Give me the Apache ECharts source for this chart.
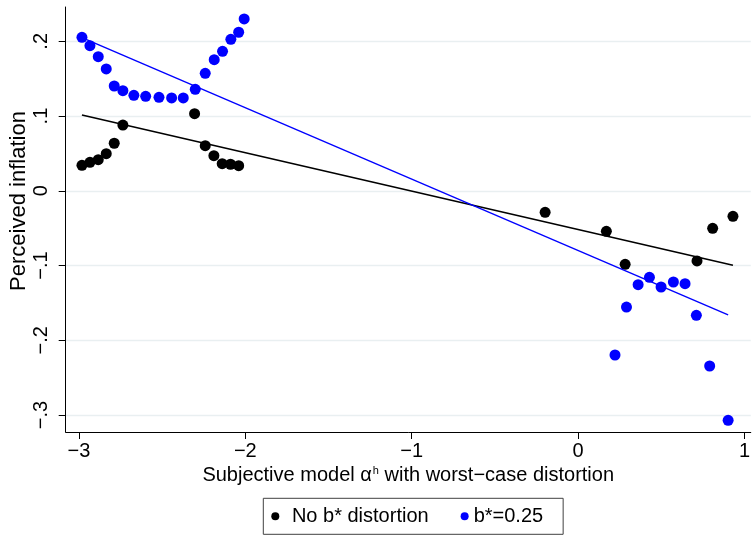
<!DOCTYPE html>
<html>
<head>
<meta charset="utf-8">
<script src="https://cdn.jsdelivr.net/npm/echarts@6/dist/echarts.min.js"></script>
<style>html,body{margin:0;padding:0;background:#fff;}#c{width:753px;height:535px;}</style>
</head>
<body>
<div id="c"></div>
<script>
// Data
const xBlack = [-2.982,-2.934,-2.884,-2.836,-2.788,-2.736,-2.305,-2.241,-2.189,-2.139,-2.089,-2.040,-0.198,0.170,0.283,0.715,0.809,0.931];
const yBlack = [0.0341,0.0381,0.0416,0.0496,0.0636,0.0880,0.1032,0.0603,0.0470,0.0363,0.0355,0.0336,-0.0288,-0.0542,-0.0983,-0.0939,-0.0502,-0.0341];
const xBlue = [-2.982,-2.934,-2.884,-2.836,-2.788,-2.736,-2.670,-2.599,-2.519,-2.443,-2.373,-2.301,-2.241,-2.187,-2.137,-2.087,-2.040,-2.007,0.222,0.291,0.361,0.429,0.499,0.573,0.643,0.711,0.791,0.902];
const yBlue = [0.2054,0.1941,0.1794,0.1630,0.1402,0.1339,0.1278,0.1264,0.1251,0.1242,0.1242,0.1358,0.1572,0.1754,0.1866,0.2027,0.2121,0.2299,-0.2197,-0.1555,-0.1256,-0.1157,-0.1287,-0.1220,-0.1243,-0.1666,-0.2344,-0.3071];
// fitted lines (endpoints)
const fitBlackX = [-2.982, 0.931];
const fitBlackY = [0.1015, -0.0995];
const fitBlueX = [-2.982, 0.902];
const fitBlueY = [0.2050, -0.1660];
const xTicks = [-3,-2,-1,0,1];
const yTicks = [-0.3,-0.2,-0.1,0,0.1,0.2];
const xTickLabels = ['\u22123','\u22122','\u22121','0','1'];
const yTickLabels = ['\u2212.3','\u2212.2','\u2212.1','0','.1','.2'];
const seriesNames = ['No b* distortion','b*=0.25'];
const xTitle = 'Subjective model \u03b1{sup|h} with worst\u2212case distortion';
const yTitle = 'Perceived inflation';

const zip = (a,b) => a.map((v,i)=>[v,b[i]]);
const FONT = 'Liberation Sans, Arial, Helvetica, sans-serif';

const chart = echarts.init(document.getElementById('c'), null, {renderer:'canvas'});
chart.setOption({
  animation:false,
  backgroundColor:'#fff',
  grid:{left:65.7, right:0, top:7, bottom:103, containLabel:false},
  xAxis:{
    type:'value', min:-3.0797, max:1.038,
    axisLine:{show:true, onZero:false, lineStyle:{color:'#000', width:1}},
    axisTick:{show:true, length:7, customValues:xTicks, lineStyle:{color:'#000'}},
    axisLabel:{customValues:xTicks, margin:9, fontSize:20, fontFamily:FONT, color:'#000',
      formatter:(v)=>{const i=xTicks.findIndex(t=>Math.abs(t-v)<1e-9);return i>=0?xTickLabels[i]:'';}},
    splitLine:{show:false},
    name:xTitle, nameLocation:'middle', nameGap:30,
    nameTextStyle:{fontSize:20, fontFamily:FONT, color:'#000',
      rich:{sup:{fontSize:11, fontFamily:FONT, color:'#000', verticalAlign:'top', padding:[0,0,9,1]}}}
  },
  yAxis:{
    type:'value', min:-0.3227, max:0.2459,
    axisLine:{show:true, onZero:false, lineStyle:{color:'#000', width:1}},
    axisTick:{show:true, length:7, customValues:yTicks, lineStyle:{color:'#000'}},
    axisLabel:{customValues:yTicks, rotate:90, margin:14, fontSize:20, fontFamily:FONT, color:'#000',
      formatter:(v)=>{const i=yTicks.findIndex(t=>Math.abs(t-v)<1e-9);return i>=0?yTickLabels[i]:'';}},
    splitLine:{show:true, lineStyle:{color:'#e9eff1', width:1.3}}
  },
  legend:{
    data:[{name:seriesNames[0], textStyle:{padding:[0,0,0,7.6]}},{name:seriesNames[1]}],
    left:263.3, top:498.3,
    orient:'horizontal',
    icon:'circle', itemWidth:8, itemHeight:8, itemGap:32,
    padding:[8,20,8,8],
    borderColor:'#404040', borderWidth:1,
    textStyle:{fontSize:20, fontFamily:FONT, color:'#000'}
  },
  graphic:[{
    type:'text', rotation:Math.PI/2, x:19, y:201,
    style:{text:yTitle, fontSize:22, fontFamily:FONT, fill:'#000', align:'center', verticalAlign:'middle'}
  }],
  series:[
    {name:seriesNames[0], type:'scatter', data:zip(xBlack,yBlack), symbol:'circle', symbolSize:11,
      itemStyle:{color:'#000', opacity:1}, z:2},
    {name:seriesNames[1], type:'scatter', data:zip(xBlue,yBlue), symbol:'circle', symbolSize:11,
      itemStyle:{color:'#0000ff', opacity:1}, z:2},
    {name:'fitBlack', type:'line', data:zip(fitBlackX,fitBlackY), showSymbol:false, symbol:'none',
      lineStyle:{color:'#000', width:1.6}, z:3},
    {name:'fitBlue', type:'line', data:zip(fitBlueX,fitBlueY), showSymbol:false, symbol:'none',
      lineStyle:{color:'#0000ff', width:1.4}, z:3}
  ]
});
</script>
</body>
</html>
